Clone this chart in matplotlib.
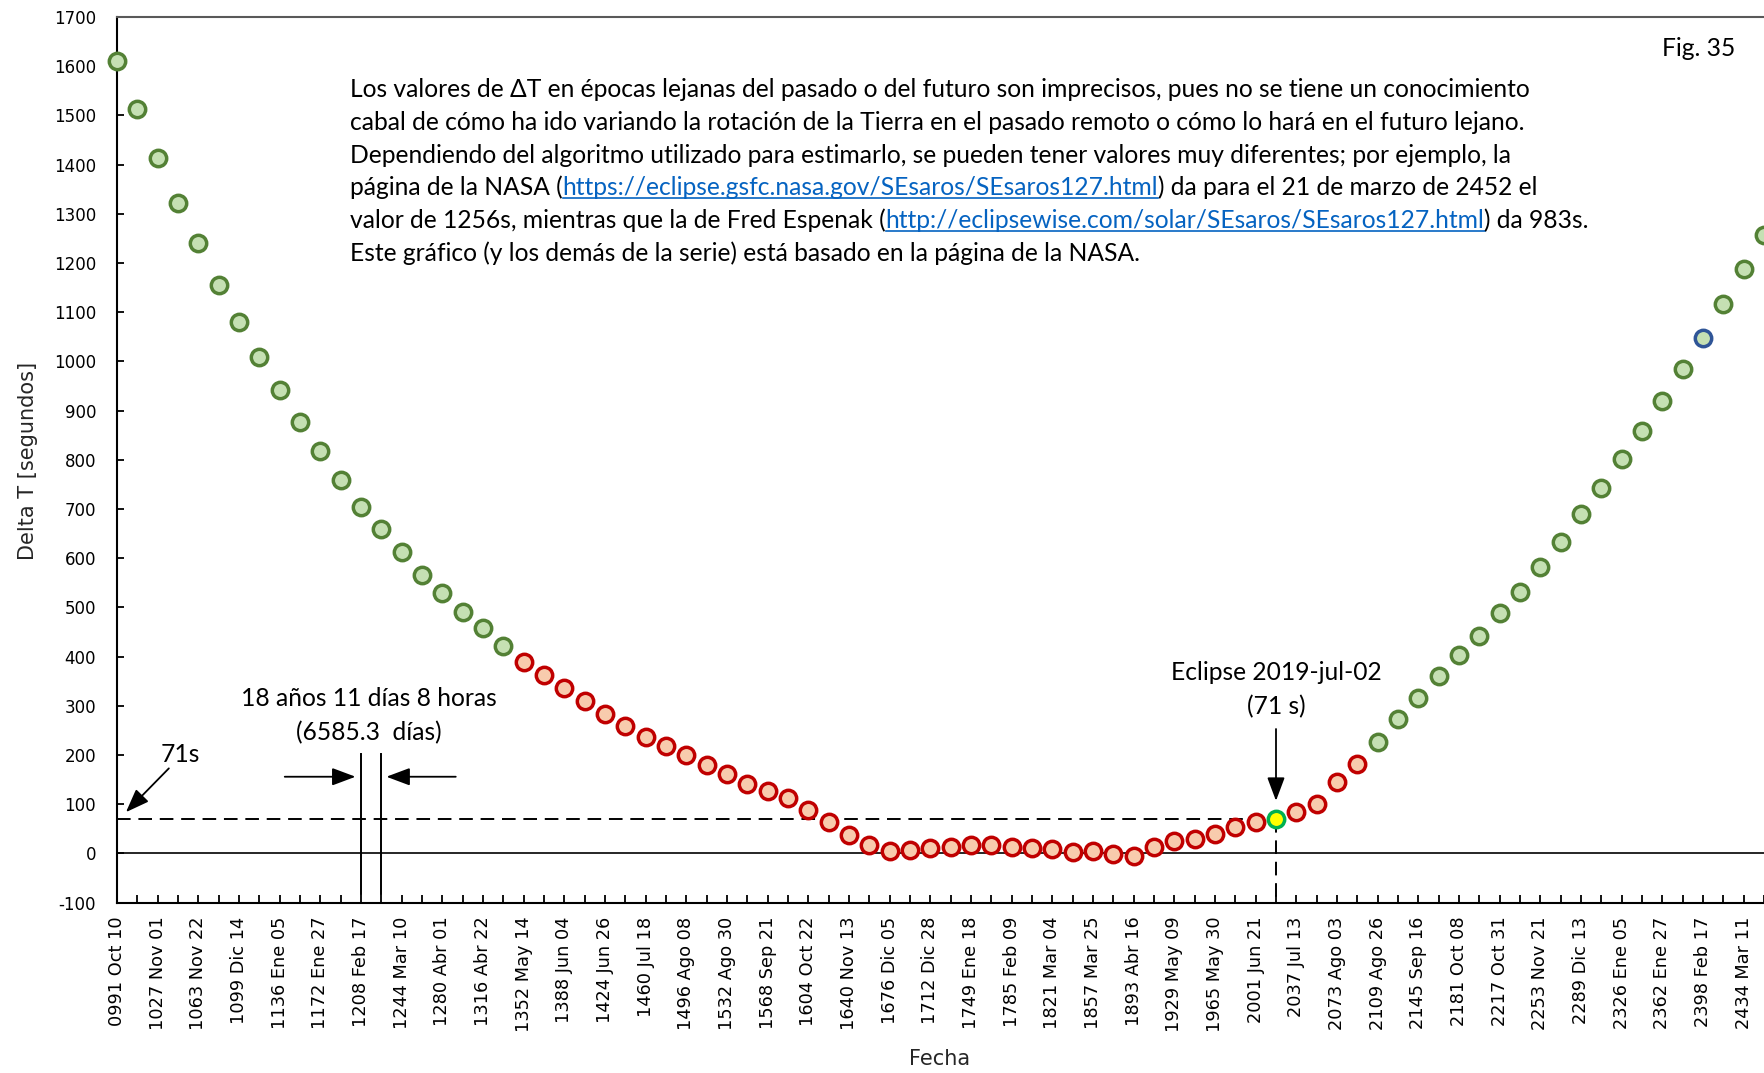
import matplotlib
matplotlib.use('Agg')
import matplotlib.pyplot as plt
from matplotlib.lines import Line2D

plt.rcParams['axes.unicode_minus'] = False

#
# Serie Saros 127: valores de Delta T (segundos) para cada eclipse
#
delta_t = [1611, 1513, 1414, 1323, 1240, 1156, 1080, 1010, 941, 877,
           817, 760, 705, 659, 612, 566, 529, 490, 458, 422,
           390, 362, 337, 310, 283, 260, 237, 218, 200, 179,
           161, 141, 127, 113, 88, 63, 38, 17, 5, 8,
           12, 14, 17, 17, 14, 12, 10, 3, 5, -2,
           -6, 14, 26, 30, 39, 53, 65, 71, 85, 101,
           145, 181, 227, 273, 317, 360, 403, 442, 488, 531,
           582, 634, 689, 742, 801, 858, 920, 984, 1048, 1117,
           1188, 1256]

# etiquetas del eje x (una de cada dos fechas)
fechas = ['0991 Oct 10', '1027 Nov 01', '1063 Nov 22', '1099 Dic 14', '1136 Ene 05',
          '1172 Ene 27', '1208 Feb 17', '1244 Mar 10', '1280 Abr 01', '1316 Abr 22',
          '1352 May 14', '1388 Jun 04', '1424 Jun 26', '1460 Jul 18', '1496 Ago 08',
          '1532 Ago 30', '1568 Sep 21', '1604 Oct 22', '1640 Nov 13', '1676 Dic 05',
          '1712 Dic 28', '1749 Ene 18', '1785 Feb 09', '1821 Mar 04', '1857 Mar 25',
          '1893 Abr 16', '1929 May 09', '1965 May 30', '2001 Jun 21', '2037 Jul 13',
          '2073 Ago 03', '2109 Ago 26', '2145 Sep 16', '2181 Oct 08', '2217 Oct 31',
          '2253 Nov 21', '2289 Dic 13', '2326 Ene 05', '2362 Ene 27', '2398 Feb 17',
          '2434 Mar 11']

# tramos: valores imprecisos (verde) y valores fiables (rojo)
primer_rojo = 20
ultimo_rojo = 61
eclipse_2019 = 57
punto_azul = 78
dt_2019 = 71

W, H = 1764, 1073
fig = plt.figure(figsize=(W / 100, H / 100), dpi=100)
ax = fig.add_axes([117 / W, (H - 902.7) / H, 1 - 117 / W, (902.7 - 17) / H])

verde = dict(mec='#538135', mfc='#C5E0B3')
rojo = dict(mec='#C00000', mfc='#F8CBAD')
amarillo = dict(mec='#00B050', mfc='#FFFF00')
azul = dict(mec='#2F5597', mfc='#C5E0B3')

for i, v in enumerate(delta_t):
    if i == eclipse_2019:
        estilo = amarillo
    elif i == punto_azul:
        estilo = azul
    elif primer_rojo <= i <= ultimo_rojo:
        estilo = rojo
    else:
        estilo = verde
    ax.plot(i, v, 'o', ms=11.8, mew=2.5, clip_on=False, zorder=4, **estilo)

# lineas de referencia
ax.axhline(0, color='#262626', lw=1.4, zorder=1)
ax.plot([0, eclipse_2019], [dt_2019, dt_2019], color='k', lw=1.4, dashes=(7, 4), zorder=2)
ax.plot([eclipse_2019, eclipse_2019], [dt_2019, -100], color='k', lw=1.4, dashes=(7, 4), zorder=2)

# periodo saros entre dos eclipses
ax.plot([12, 12], [-82, 203], color='k', lw=1.4, zorder=2)
ax.plot([13, 13], [-82, 203], color='k', lw=1.4, zorder=2)
flecha = dict(arrowstyle='-|>,head_length=0.8,head_width=0.3', color='k', lw=1.3,
              shrinkA=0, shrinkB=0, mutation_scale=18)
ax.annotate('', xy=(11.73, 156), xytext=(8.25, 156), arrowprops=flecha)
ax.annotate('', xy=(13.25, 156), xytext=(16.66, 156), arrowprops=flecha)
ax.annotate('', xy=(0.44, 84), xytext=(2.55, 173), arrowprops=flecha)
ax.annotate('', xy=(eclipse_2019, 107), xytext=(eclipse_2019, 253), arrowprops=flecha)

ax.set_xlim(0, 81)
ax.set_ylim(-100, 1700)
ax.set_yticks(range(-100, 1701, 100))
ax.set_xticks(range(0, 81, 2))
ax.set_xticklabels(fechas, rotation=90, family='DejaVu Sans')
ax.set_xticks(range(0, 82), minor=True)
ax.tick_params(axis='x', which='both', direction='in', length=6, width=1.3, pad=10, labelsize=12.8)
ax.tick_params(axis='y', direction='in', length=5, width=1.3, pad=15, labelsize=12)
ax.spines['right'].set_visible(False)
ax.spines['top'].set_color('#595959')
for s in ['left', 'bottom', 'top']:
    ax.spines[s].set_linewidth(1.5)

fig.text(28 / W, 1 - 461 / H, 'Delta T [segundos]', rotation=90, ha='center', va='center',
         fontsize=15, color='#262626')
fig.text(940 / W, 1 - 1059 / H, 'Fecha', ha='center', va='center', fontsize=15, color='#262626')

#
# Texto explicativo (Calibri -> Lato)
#
fam = ['Lato', 'DejaVu Sans']
r = fig.canvas.get_renderer()
lineas = [
    [('Los valores de ΔT en épocas lejanas del pasado o del futuro son imprecisos, pues no se tiene un conocimiento', False)],
    [('cabal de cómo ha ido variando la rotación de la Tierra en el pasado remoto o cómo lo hará en el futuro lejano.', False)],
    [('Dependiendo del algoritmo utilizado para estimarlo, se pueden tener valores muy diferentes; por ejemplo, la', False)],
    [('página de la NASA (', False), ('https://eclipse.gsfc.nasa.gov/SEsaros/SEsaros127.html', True),
     (') da para el 21 de marzo de 2452 el', False)],
    [('valor de 1256s, mientras que la de Fred Espenak (', False),
     ('http://eclipsewise.com/solar/SEsaros/SEsaros127.html', True), (') da 983s.', False)],
    [('Este gráfico (y los demás de la serie) está basado en la página de la NASA.', False)],
]
t = fig.text(0, 0, lineas[0][0][0], fontsize=20, family=fam)
tam = 20 * 1187 / t.get_window_extent(r).width
t.remove()

for n, linea in enumerate(lineas):
    x = 350
    y = 97 + n * 32.8
    for texto, enlace in linea:
        color = '#0563C1' if enlace else 'black'
        t = fig.text(x / W, 1 - y / H, texto, fontsize=tam, family=fam, color=color, va='baseline')
        w = t.get_window_extent(r).width
        if enlace:
            fig.add_artist(Line2D([x / W, (x + w) / W], [1 - (y + 3) / H] * 2,
                                  color=color, lw=1.2, transform=fig.transFigure))
        x += w

fig.text(1699 / W, 1 - 48 / H, 'Fig. 35', ha='center', va='center', fontsize=tam, family=fam)

ax.text(12.39, 314, '18 años 11 días 8 horas', ha='center', va='center', fontsize=tam, family=fam)
ax.text(12.39, 245, '(6585.3  días)', ha='center', va='center', fontsize=tam, family=fam)
ax.text(3.1, 202, '71s', ha='center', va='center', fontsize=tam, family=fam)
ax.text(eclipse_2019, 367, 'Eclipse 2019-jul-02', ha='center', va='center', fontsize=tam, family=fam)
ax.text(eclipse_2019, 298, '(71 s)', ha='center', va='center', fontsize=tam, family=fam)

fig.savefig('out.png', dpi=100)
